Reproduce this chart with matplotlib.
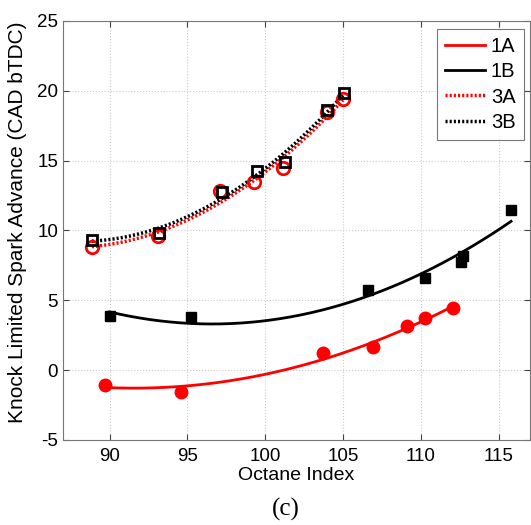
import numpy as np
import matplotlib
matplotlib.use('Agg')
import matplotlib.pyplot as plt

# octane index / knock limited spark advance for each case
x_1a = [89.7, 94.6, 103.7, 106.9, 109.1, 110.3, 112.1]
y_1a = [-1.05, -1.55, 1.2, 1.65, 3.15, 3.7, 4.45]

x_1b = [90.0, 95.2, 106.6, 110.3, 112.6, 112.7, 115.8]
y_1b = [3.85, 3.8, 5.75, 6.6, 7.75, 8.2, 11.45]

x_3a = [88.85, 93.1, 97.1, 99.3, 101.15, 104.0, 105.0]
y_3a = [8.85, 9.6, 12.85, 13.45, 14.45, 18.45, 19.4]

x_3b = [88.85, 93.15, 97.2, 99.45, 101.25, 104.0, 105.05]
y_3b = [9.3, 9.85, 12.75, 14.25, 14.9, 18.6, 19.85]

etiquetas = ['1A', '1B', '3A', '3B']
xticks = [90, 95, 100, 105, 110, 115]
yticks = [-5, 0, 5, 10, 15, 20, 25]

plt.rcParams['font.family'] = ['Liberation Sans', 'DejaVu Sans']
plt.rcParams['axes.unicode_minus'] = False

fig = plt.figure(figsize=(5.31, 5.25), dpi=100)
ax = fig.add_axes([0.1186, 0.162, 0.879, 0.798])


def curva(x, y, grado=2):  # ajuste polinomial sobre el rango de los datos
    p = np.polyfit(x, y, grado)
    xs = np.linspace(min(x), max(x), 200)
    return xs, np.polyval(p, xs)


lineas = []
xs, ys = curva(x_1a, y_1a)
lineas += ax.plot(xs, ys, color='red', lw=2, zorder=3)
xs, ys = curva(x_1b, y_1b)
lineas += ax.plot(xs, ys, color='black', lw=2, zorder=3)
xs, ys = curva(x_3a, y_3a)
lineas += ax.plot(xs, ys, color='red', lw=2.5, ls=(0, (0.6, 0.6)), zorder=3)
xs, ys = curva(x_3b, y_3b)
lineas += ax.plot(xs, ys, color='black', lw=2.5, ls=(0, (0.6, 0.6)), zorder=3)

# puntos medidos
ax.plot(x_1a, y_1a, 'o', color='red', ms=9, ls='none', zorder=4)
ax.plot(x_1b, y_1b, 's', color='black', ms=7, ls='none', zorder=4)
ax.plot(x_3a, y_3a, 'o', mfc='none', mec='red', mew=2, ms=9, ls='none', zorder=4)
ax.plot(x_3b, y_3b, 's', mfc='none', mec='black', mew=2, ms=7.5, ls='none', zorder=5)

ax.set_xlim(87, 117)
ax.set_ylim(-5, 25)
ax.set_xticks(xticks)
ax.set_yticks(yticks)
ax.tick_params(direction='in', top=True, right=True, labelsize=13.5, length=4,
               color='#444444')
ax.tick_params(axis='x', pad=6)
for s in ax.spines.values():
    s.set_color('#777777')
ax.grid(True, ls=':', color='#cccccc', lw=0.8)
ax.set_axisbelow(True)

ax.set_xlabel('Octane Index', fontsize=14, labelpad=1)
ax.set_ylabel('Knock Limited Spark Advance (CAD bTDC)', fontsize=15)
ax.yaxis.set_label_coords(-0.078, 0.52)

leg = ax.legend(lineas, etiquetas, loc='upper right', bbox_to_anchor=(0.987, 0.980),
                borderaxespad=0, fontsize=14.5, frameon=True,
                fancybox=False, edgecolor='#555555', handlelength=2.0,
                labelspacing=0.3, handletextpad=0.3, borderpad=0.4)
leg.get_frame().set_linewidth(0.8)

fig.text(0.538, 0.018, '(c)', fontsize=18, ha='center',
         family=['Liberation Serif', 'DejaVu Serif'])

fig.savefig('out.png', dpi=100)
